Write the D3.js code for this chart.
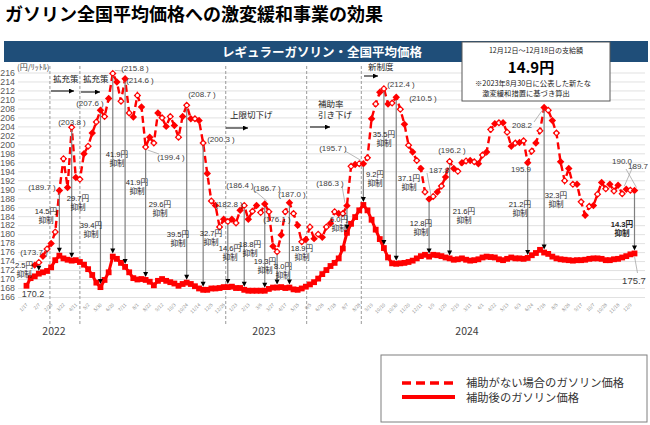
<!DOCTYPE html>
<html><head><meta charset="utf-8">
<script src="https://cdn.jsdelivr.net/npm/d3@7"></script>
<style>
body{margin:0;background:#fff;}
svg text{font-family:"Noto Sans CJK JP","Noto Sans",sans-serif;}
svg text.lab{font-family:"Liberation Sans","Noto Sans CJK JP",sans-serif;}
</style></head><body>
<svg id="c" width="650" height="425"></svg>
<script>
// ---------------- DATA ----------------
const tickLabels = ["1/17","2/7","2/28","3/22","4/11","5/2","5/30","6/20","7/11","8/1","8/22","9/12","10/3","10/24","11/14","12/5","12/26","1/23","2/13","3/6","3/27","4/17","5/15","6/5","6/26","7/18","8/7","8/28","9/19","10/10","10/30","11/20","12/11","1/9","1/29","2/19","3/11","4/1","4/22","5/13","6/3","6/24","7/16","8/5","8/26","9/17","10/7","10/28","11/18","12/9"];
const years = ["2022","2023","2024"];
// 補助後のガソリン価格 (weekly)
const afterPrice = [
168.5,170.2,170.6,171.2,171.5,171.8,172.6,174.2,175.2,174.6,
174.3,174.1,174.2,173.8,173.2,172.2,170.9,169.2,168.2,169.8,
171.5,175.0,174.5,173.6,172.7,171.5,170.2,169.9,170.0,169.8,
169.4,168.6,169.6,170.0,169.6,169.3,169.0,168.5,168.9,169.2,
168.9,168.4,167.9,167.6,167.6,167.9,167.9,168.0,168.2,168.2,
168.3,168.0,168.0,167.6,167.4,167.4,167.4,167.4,167.4,167.8,
168.1,168.1,168.2,168.0,168.1,167.7,167.6,167.9,168.3,168.8,
169.3,170.1,171.1,172.0,172.9,173.6,174.6,176.8,180.3,182.3,
183.8,185.3,186.5,185.3,183.2,181.0,178.9,176.9,174.8,173.5,
173.4,173.5,173.6,173.8,174.1,174.6,175.1,175.4,175.0,175.4,
175.3,175.1,174.8,174.6,174.3,174.4,174.6,174.3,174.1,174.2,
174.4,174.8,175.0,174.9,174.8,174.4,174.2,174.5,174.8,174.6,
174.6,174.5,174.7,175.3,175.8,176.5,175.9,175.6,175.0,174.6,
174.4,174.3,174.2,174.1,174.2,174.2,174.3,174.5,174.6,174.6,
174.5,174.2,174.2,174.4,174.5,174.8,175.1,175.5,175.7];
// 補助がない場合のガソリン価格 (weekly)
const noSubsidyPrice = [
null,null,173.1,173.7,175.1,176.7,177.9,180.5,189.7,196.8,
190.4,203.8,192.6,192.2,197.9,199.6,202.5,205.0,207.6,206.2,
210.2,215.8,213.9,209.6,214.6,207.0,206.1,210.9,208.3,199.4,
201.6,200.3,207.0,205.9,204.0,206.2,204.2,201.6,206.2,208.7,
205.7,205.7,205.3,200.3,193.5,187.4,186.4,181.6,183.3,182.8,
183.3,182.5,185.3,186.4,183.3,185.1,186.4,184.8,186.7,185.0,
177.3,176.1,179.8,185.0,187.0,184.6,182.0,178.3,178.8,181.6,
179.0,180.0,179.3,181.6,182.4,185.0,184.6,184.6,186.3,195.1,
195.5,195.7,195.7,197.0,205.7,209.0,211.6,212.4,209.0,209.2,
210.5,207.8,204.5,199.8,198.3,196.4,194.6,189.4,187.8,188.4,
189.4,190.7,192.7,196.2,194.6,194.0,195.9,196.3,196.4,196.1,
195.7,197.6,198.3,203.3,204.6,204.8,204.8,202.7,199.6,200.3,
200.4,200.8,195.9,198.5,200.3,203.0,208.2,207.6,205.3,202.5,
196.1,191.9,194.6,191.1,191.1,187.2,184.2,186.2,186.4,188.9,
191.5,190.1,191.1,189.6,190.9,189.0,190.0,189.8,189.7];
// 抑制額 annotations (week index, text)
const suppIdx  = [3,8,11,18,21,24,29,39,43,49,53,58,61,64,78,82,87,90,98,103,122,126,148];
const suppText = ["2.5円","14.5円","29.7円","39.4円","41.9円","41.9円","29.6円","39.5円","32.7円","14.6円","18.8円","19.3円","8.0円","18.9円","6.0円","9.2円","35.5円","37.1円","12.8円","21.6円","21.2円","32.3円","14.3円"];
// labelled no-subsidy values (week index, with parentheses?)
const valIdx   = [3,8,11,18,21,24,29,39,43,49,53,58,61,64,78,82,87,90,98,103,122,126,146,148];
const valParen = [1,1,1,1,1,1,1,1,1,1,1,1,1,1,1,1,1,1,0,1,0,0,0,0];
// policy phases (week index where a measure starts)
const phaseIdx  = [5.7,13.0,48.5,68.2,81.5];
const phaseText = [["拡充策"],["拡充策"],["上限切下げ"],["補助率","引き下げ"],["新制度"]];
const legendText = ["補助がない場合のガソリン価格","補助後のガソリン価格"];

// ---------------- LAYOUT ----------------
const suppPos = [[24,265],[46,211],[78,198],[91,225],[117,154],[137,182],[160,204],[178,234],[211,233],[230,248],[250,244],[265,261],[283,266],[302,248],[339,219],[375,174],[384,134],[409,178],[421,223],[464,211],[520,204],[556,195],[622,224]];
const valPos = [[34,252],[42,187],[72,122],[90,103],[135,68],[140,80],[171,157],[202,94],[221,139],[229,204],[240,185],[267,188],[277,219],[292,194],[330,183],[333,148],[401,84],[423,98],[439,170],[452,150],[521,169],[522,125],[622,161],[638,166]];
const leaderFor = {21:true,29:true,58:true,78:true,82:true,98:true,126:true,146:true,148:true};
const phasePos = [[53,82,51,74],[83,82,81,100],[230,118,226,248],[318,107,310,330],[368,70,364,378]];
const phaseArrowY = [91,92,128,127,76];

const svg = d3.select("#c");
const x = d3.scaleLinear().domain([0,148]).range([26.5,634.5]);
const y = d3.scaleLinear().domain([166,216]).range([297,72.5]);
const RED = "#ff0000";

// title
svg.append("text").attr("x",5).attr("y",21).attr("font-size",18).attr("font-weight","bold").attr("fill","#000")
  .text("ガソリン全国平均価格への激変緩和事業の効果");

// grid + y axis
const gy = svg.append("g").attr("transform","translate(18,0)")
  .call(d3.axisLeft(y).tickValues(d3.range(166,217,2)).tickSize(-627).tickPadding(3));
gy.select(".domain").remove();
gy.selectAll(".tick line").attr("stroke","#d9d9d9").attr("stroke-width",0.8);
gy.selectAll(".tick text").attr("font-size",8.8).attr("fill","#595959").style("font-family","Liberation Sans, Arial, sans-serif");
svg.append("text").attr("x",17).attr("y",70).attr("font-size",8).attr("fill","#404040").text("(円/ﾘｯﾄﾙ)");

// x axis
const gx = svg.append("g").attr("transform","translate(0,304)")
  .call(d3.axisBottom(x).tickValues(d3.range(0,148,3)).tickFormat(i=>tickLabels[i/3]).tickSize(0).tickPadding(0));
gx.select(".domain").remove();
gx.selectAll(".tick text").attr("text-anchor","end").attr("dy","0.35em").attr("transform","rotate(-45)")
  .attr("font-size",4.6).attr("fill","#8a8a8a");
const yearX = [54,264,467];
years.forEach((t,i)=>svg.append("text").attr("x",yearX[i]).attr("y",335).attr("text-anchor","middle")
  .attr("font-size",10.5).attr("fill","#404040").text(t));

// phase dashed lines
svg.append("g").selectAll("line").data(phaseIdx).join("line")
  .attr("x1",d=>x(d)).attr("x2",d=>x(d)).attr("y1",66).attr("y2",326)
  .attr("stroke","#9a9a9a").attr("stroke-width",1).attr("stroke-dasharray","3,2");

// banner
svg.append("rect").attr("x",4).attr("y",41).attr("width",644).attr("height",21).attr("fill","#1f4e79");
svg.append("text").attr("x",322).attr("y",56.5).attr("text-anchor","middle").attr("font-size",12.5)
  .attr("font-weight","bold").attr("fill","#fff").text("レギュラーガソリン・全国平均価格");

// arrowhead marker
const defs = svg.append("defs");
defs.append("marker").attr("id","ah").attr("viewBox","0 0 10 10").attr("refX",10).attr("refY",5)
  .attr("markerWidth",5).attr("markerHeight",5).attr("orient","auto")
  .append("path").attr("d","M0,0L10,5L0,10Z").attr("fill","#000");

// phase annotations
phaseText.forEach((lines,i)=>{
  const p = phasePos[i];
  const t = svg.append("text").attr("class","lab").attr("x",p[0]).attr("y",p[1]).attr("font-size",8.5).attr("fill","#222");
  lines.forEach((s,j)=>t.append("tspan").attr("x",p[0]).attr("dy",j?10.5:0).text(s));
  svg.append("line").attr("x1",p[2]).attr("x2",p[3]).attr("y1",phaseArrowY[i]).attr("y2",phaseArrowY[i])
    .attr("stroke","#000").attr("stroke-width",1).attr("marker-end","url(#ah)");
});

// no-subsidy dashed series
const pts = noSubsidyPrice.map((v,i)=>({i,v})).filter(d=>d.v!=null);
svg.append("path").datum(pts)
  .attr("d",d3.line().x(d=>x(d.i)).y(d=>y(d.v)))
  .attr("fill","none").attr("stroke",RED).attr("stroke-width",2.4).attr("stroke-dasharray","7,4");
const dm = svg.append("g").selectAll("g").data(pts).join("g")
  .attr("transform",d=>`translate(${x(d.i)},${y(d.v)})`);
dm.append("path").attr("d",d3.symbol(d3.symbolSquare,28)).attr("transform","rotate(45)").attr("fill",RED);
dm.filter(d=>d.i%2===1).append("circle").attr("r",1.6).attr("fill","#fff");

// after-subsidy series
const sp = afterPrice.map((v,i)=>({i,v}));
svg.append("path").datum(sp)
  .attr("d",d3.line().x(d=>x(d.i)).y(d=>y(d.v)))
  .attr("fill","none").attr("stroke",RED).attr("stroke-width",3);
svg.append("g").selectAll("rect").data(sp).join("rect")
  .attr("x",d=>x(d.i)-2.9).attr("y",d=>y(d.v)-2.9).attr("width",5.8).attr("height",5.8).attr("fill",RED);

// suppression arrows
suppIdx.forEach((i,k)=>{
  const yd = y(noSubsidyPrice[i]) + 3, ys = y(afterPrice[i]) - 3;
  svg.append("line").attr("x1",x(i)).attr("x2",x(i)).attr("y1",yd).attr("y2",ys-4)
    .attr("stroke","#7f7f7f").attr("stroke-width",1.2);
  svg.append("path").attr("d",`M${x(i)-2.5},${ys-5}L${x(i)+2.5},${ys-5}L${x(i)},${ys}Z`).attr("fill","#000");
  const p = suppPos[k], bold = k===suppIdx.length-1;
  const t = svg.append("text").attr("class","lab").attr("x",p[0]).attr("y",p[1]+3).attr("text-anchor","middle").attr("font-size",7.6)
    .attr("font-weight",bold?"bold":"normal").attr("fill","#262626");
  t.append("tspan").attr("x",p[0]).text(suppText[k]);
  t.append("tspan").attr("x",p[0]).attr("dy",9.2).text("抑制");
});

// value labels
valIdx.forEach((i,k)=>{
  const v = noSubsidyPrice[i].toFixed(1), p = valPos[k];
  if (leaderFor[i]) {
    svg.append("line").attr("x1",p[0]+(x(i)>p[0]?12:-12)).attr("y1",p[1]+(y(noSubsidyPrice[i])>p[1]?3:-3))
      .attr("x2",x(i)+(x(i)>p[0]?-2:2)).attr("y2",y(noSubsidyPrice[i])+(y(noSubsidyPrice[i])>p[1]?-3:3))
      .attr("stroke","#a6a6a6").attr("stroke-width",0.8);
  }
  svg.append("text").attr("class","lab").attr("x",p[0]).attr("y",p[1]+3).attr("text-anchor","middle").attr("font-size",8)
    .attr("fill","#404040").text(valParen[k]?`(${v} )`:v);
});
// after-subsidy end labels
svg.append("text").attr("class","lab").attr("x",33).attr("y",297).attr("text-anchor","middle").attr("font-size",9).attr("fill","#404040").text("170.2");
svg.append("line").attr("x1",x(148)).attr("y1",y(afterPrice[148])+3).attr("x2",x(148)+3).attr("y2",273).attr("stroke","#a6a6a6").attr("stroke-width",0.8);
svg.append("text").attr("class","lab").attr("x",634).attr("y",284).attr("text-anchor","middle").attr("font-size",9.5).attr("fill","#404040").text(afterPrice[148].toFixed(1));

// info box
svg.append("rect").attr("x",462).attr("y",42).attr("width",148).attr("height",59).attr("fill","#fff").attr("stroke","#595959").attr("stroke-width",1);
svg.append("text").attr("x",536).attr("y",53).attr("text-anchor","middle").attr("font-size",7).attr("fill","#222").text("12月12日～12月18日の支給額");
svg.append("text").attr("x",531).attr("y",73).attr("text-anchor","middle").attr("font-size",15).attr("font-weight","bold").attr("fill","#000").text("14.9円");
const note = svg.append("text").attr("x",533).attr("y",86).attr("text-anchor","middle").attr("font-size",7.3).attr("fill","#222");
note.append("tspan").attr("x",533).text("※2023年8月30日に公表した新たな");
note.append("tspan").attr("x",526).attr("dy",10).text("激変緩和措置に基づき算出");

// legend
svg.append("rect").attr("x",381).attr("y",355).attr("width",266).attr("height",67).attr("fill","#fff").attr("stroke","#7f7f7f").attr("stroke-width",1);
svg.append("line").attr("x1",402).attr("x2",455).attr("y1",383).attr("y2",383).attr("stroke",RED).attr("stroke-width",3.5).attr("stroke-dasharray","9,5");
svg.append("line").attr("x1",402).attr("x2",455).attr("y1",397).attr("y2",397).attr("stroke",RED).attr("stroke-width",4);
svg.append("text").attr("class","lab").attr("x",466).attr("y",387).attr("font-size",11.3).attr("fill","#333").text(legendText[0]);
svg.append("text").attr("class","lab").attr("x",466).attr("y",402).attr("font-size",11.3).attr("fill","#333").text(legendText[1]);
</script>
</body></html>
